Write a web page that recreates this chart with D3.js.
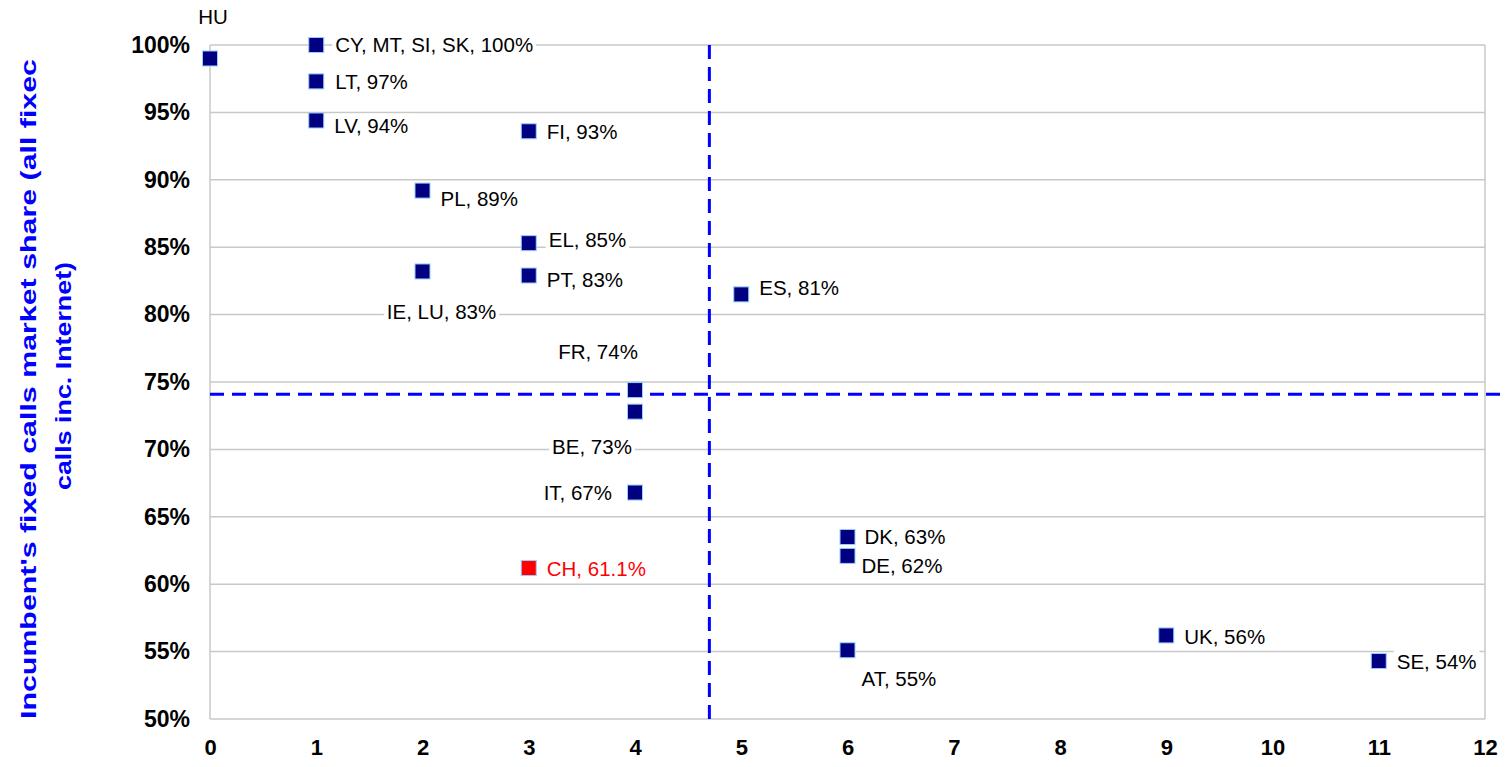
<!DOCTYPE html>
<html>
<head>
<meta charset="utf-8">
<script src="https://cdn.jsdelivr.net/npm/d3@7"></script>
<style>
  html, body { margin: 0; padding: 0; background: #ffffff; }
  svg { display: block; font-family: "Liberation Sans", Arial, sans-serif; }
</style>
</head>
<body>
<svg id="chart" width="1505" height="767"></svg>
<script>
// ---- data ----
const countries = ["HU", "CY, MT, SI, SK", "LT", "LV", "FI", "PL", "EL", "IE, LU", "PT", "ES", "FR", "BE", "IT", "CH", "DK", "DE", "AT", "UK", "SE"];
const xValues   = [0, 1, 1, 1, 3, 2, 3, 2, 3, 5, 4, 4, 4, 3, 6, 6, 6, 9, 11];
const yValues   = [0.99, 1.0, 0.973, 0.944, 0.936, 0.892, 0.853, 0.832, 0.829, 0.815, 0.744, 0.728, 0.668, 0.612, 0.635, 0.621, 0.551, 0.562, 0.543];
const labels    = ["HU", "CY, MT, SI, SK, 100%", "LT, 97%", "LV, 94%", "FI, 93%", "PL, 89%", "EL, 85%", "IE, LU, 83%", "PT, 83%", "ES, 81%", "FR, 74%", "BE, 73%", "IT, 67%", "CH, 61.1%", "DK, 63%", "DE, 62%", "AT, 55%", "UK, 56%", "SE, 54%"];
const highlight = ["CH"];
const xTicks = [0,1,2,3,4,5,6,7,8,9,10,11,12];
const yTicks = [0.5,0.55,0.6,0.65,0.7,0.75,0.8,0.85,0.9,0.95,1.0];
const refX = 4.7;     // vertical reference (average)
const refY = 0.741;   // horizontal reference (average)
const yTitleLines = ["Incumbent's fixed calls market share (all fixec", "calls inc. Internet)"];

// label placement (offset from marker, anchor)
const labelPlacement = [
  [3,-42,"middle"],[19,0,"start"],[19,0,"start"],[18,5,"start"],[18,1,"start"],
  [18,8,"start"],[20,-3,"start"],[19,40,"middle"],[18,4,"start"],[18,-7,"start"],
  [-37,-38,"middle"],[-43,35,"middle"],[-23,0,"end"],[18,1,"start"],[17,0,"start"],
  [14,10,"start"],[14,29,"start"],[18,1,"start"],[18,1,"start"]
];
// y-title line geometry: [centre along axis, baseline x, length]
const yTitleGeom = [[389, 36, 660], [376, 71, 228]];

// ---- layout ----
const svg = d3.select("#chart");
const mLeft = 210, mRight = 1485, mTop = 45, mBottom = 719;
const x = d3.scaleLinear().domain([0, 12]).range([mLeft, mRight]);
const y = d3.scaleLinear().domain([0.5, 1.0]).range([mBottom, mTop]);

// gridlines
svg.append("g").selectAll("line").data(yTicks).join("line")
  .attr("x1", mLeft).attr("x2", mRight)
  .attr("y1", d => y(d)).attr("y2", d => y(d))
  .attr("stroke", "#c8c8c8").attr("stroke-width", 1.5);
svg.append("line").attr("x1", mLeft).attr("x2", mLeft).attr("y1", mTop).attr("y2", mBottom)
  .attr("stroke", "#c8c8c8").attr("stroke-width", 1.5);
svg.append("line").attr("x1", mRight).attr("x2", mRight).attr("y1", mTop).attr("y2", mBottom)
  .attr("stroke", "#c8c8c8").attr("stroke-width", 1.5);

// y axis labels
const yAxis = d3.axisLeft(y).tickValues(yTicks).tickFormat(d3.format(".0%")).tickSize(0).tickPadding(20);
const gy = svg.append("g").attr("transform", `translate(${mLeft},0)`).call(yAxis);
gy.select(".domain").remove();
gy.selectAll("text").attr("font-size", 23).attr("font-weight", "bold").attr("fill", "#000")
  .attr("font-family", "'Liberation Sans', Arial, sans-serif");

// x axis labels
const xAxis = d3.axisBottom(x).tickValues(xTicks).tickFormat(d3.format("d")).tickSize(0).tickPadding(20);
const gx = svg.append("g").attr("transform", `translate(0,${mBottom})`).call(xAxis);
gx.select(".domain").remove();
gx.selectAll("text").attr("font-size", 22).attr("font-weight", "bold").attr("fill", "#000")
  .attr("font-family", "'Liberation Sans', Arial, sans-serif");

// y title
yTitleLines.forEach((t, i) => {
  const g = yTitleGeom[i];
  svg.append("text")
    .attr("transform", `translate(${g[1]},${g[0]}) rotate(-90)`)
    .attr("text-anchor", "middle")
    .attr("x", 0).attr("y", 0)
    .attr("font-size", 22).attr("font-weight", "bold").attr("fill", "#0000ff")
    .attr("textLength", g[2]).attr("lengthAdjust", "spacingAndGlyphs")
    .text(t);
});

// data points
const pts = countries.map((c, i) => ({ c, x: xValues[i], y: yValues[i], label: labels[i], place: labelPlacement[i] }));

// labels with white background
const lg = svg.append("g");
pts.forEach(p => {
  const px = x(p.x), py = y(p.y);
  const color = highlight.includes(p.c) ? "#ff0000" : "#000000";
  const g = lg.append("g");
  const t = g.append("text")
    .attr("x", px + p.place[0]).attr("y", py + p.place[1])
    .attr("dy", "0.35em")
    .attr("text-anchor", p.place[2])
    .attr("font-size", 20.5).attr("fill", color)
    .text(p.label);
  const bb = t.node().getBBox();
  g.insert("rect", "text").attr("x", bb.x - 3).attr("y", bb.y).attr("width", bb.width + 6).attr("height", bb.height)
    .attr("fill", "#ffffff");
});

// reference dashed lines
svg.append("line")
  .attr("x1", x(refX)).attr("x2", x(refX)).attr("y1", mTop).attr("y2", mBottom + 4)
  .attr("stroke", "#0000ff").attr("stroke-width", 3).attr("stroke-dasharray", "14,8");
svg.append("line")
  .attr("x1", mLeft).attr("x2", 1500).attr("y1", y(refY)).attr("y2", y(refY))
  .attr("stroke", "#0000ff").attr("stroke-width", 3).attr("stroke-dasharray", "14,8");

// markers
const s = 15;
svg.append("g").selectAll("rect").data(pts).join("rect")
  .attr("x", d => x(d.x) - s / 2).attr("y", d => y(d.y) - s / 2)
  .attr("width", s).attr("height", s)
  .attr("fill", d => highlight.includes(d.c) ? "#ff0000" : "#000080")
  .attr("stroke", "#99ccff").attr("stroke-width", 1);
</script>
</body>
</html>
